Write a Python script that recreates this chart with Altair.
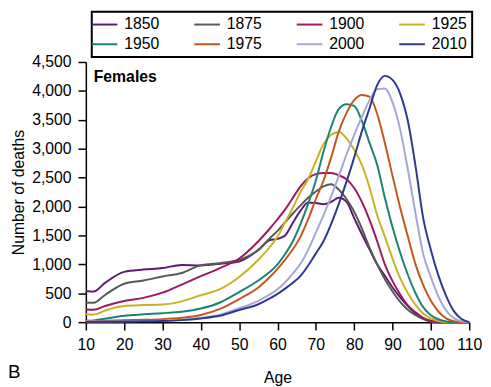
import altair as alt
import pandas as pd

ages = [10, 12, 15, 20, 25, 30, 35, 40, 45, 50, 55, 58, 60, 62, 64, 66, 68, 70, 72, 74,
        76, 78, 80, 82, 84, 86, 88, 90, 92, 94, 96, 98, 100, 102, 104, 106, 108, 110]

d1850 = [540, 530, 680, 870, 910, 935, 990, 980, 1010, 1050, 1250, 1420, 1440, 1500, 1720, 1930, 2070, 2060, 2040, 2080,
         2150, 2080, 1800, 1520, 1260, 1000, 800, 600, 430, 280, 150, 60, 15, 0, 0, 0, 0, 0]
d1875 = [340, 335, 470, 665, 720, 790, 850, 985, 1020, 1080, 1250, 1450, 1580, 1730, 1880, 2020, 2150, 2260, 2350, 2385,
         2290, 2130, 1910, 1620, 1290, 1000, 740, 530, 350, 215, 120, 55, 10, 0, 0, 0, 0, 0]
d1900 = [220, 215, 280, 365, 420, 510, 650, 795, 935, 1100, 1400, 1620, 1780, 1950, 2150, 2350, 2490, 2560, 2580, 2580,
         2540, 2470, 2320, 2080, 1770, 1400, 1000, 710, 480, 290, 170, 75, 25, 0, 0, 0, 0, 0]
d1925 = [135, 130, 200, 280, 295, 305, 360, 465, 570, 780, 1080, 1300, 1480, 1730, 1980, 2250, 2480, 2780, 3080, 3240,
         3290, 3180, 2980, 2720, 2330, 1850, 1480, 1100, 760, 500, 300, 150, 65, 20, 0, 0, 0, 0]
d1950 = [25, 30, 60, 110, 135, 155, 180, 235, 340, 520, 720, 870, 1000, 1180, 1400, 1700, 2050, 2450, 2950, 3380,
         3690, 3770, 3740, 3480, 3100, 2720, 2150, 1640, 1200, 820, 500, 260, 120, 50, 10, 0, 0, 0]
d1975 = [20, 20, 25, 35, 40, 50, 75, 125, 230, 400, 600, 780, 920, 1080, 1260, 1480, 1780, 2130, 2450, 2850,
         3300, 3620, 3840, 3930, 3900, 3600, 3100, 2530, 1980, 1480, 1000, 640, 370, 180, 65, 15, 0, 0]
d2000 = [10, 10, 12, 15, 20, 25, 40, 75, 130, 240, 370, 480, 570, 690, 840, 1010, 1250, 1550, 1850, 2180,
         2530, 2900, 3240, 3550, 3840, 4030, 4040, 3800, 3330, 2640, 1880, 1180, 780, 440, 200, 70, 15, 0]
d2010 = [5, 5, 8, 10, 15, 20, 35, 65, 110, 210, 310, 410, 490, 580, 680, 800, 980, 1190, 1400, 1700,
         2050, 2430, 2850, 3300, 3700, 4100, 4260, 4190, 3950, 3480, 2700, 1800, 1250, 800, 450, 190, 55, 0]

years = ["1850", "1875", "1900", "1925", "1950", "1975", "2000", "2010"]
colors = ["#5b1b72", "#585858", "#9e1962", "#c8b420", "#1a8474", "#c0581e", "#a6a6d8", "#2d3a8e"]
series = [d1850, d1875, d1900, d1925, d1950, d1975, d2000, d2010]

rows = []
for yr, vals in zip(years, series):
    for a, v in zip(ages, vals):
        rows.append({"Age": a, "Deaths": v, "Year": yr})
df = pd.DataFrame(rows)

FONT = "Liberation Sans"

lines = alt.Chart(df).mark_line(strokeWidth=2, interpolate="monotone").encode(
    x=alt.X("Age:Q", scale=alt.Scale(domain=[10, 110], nice=False),
            axis=alt.Axis(values=list(range(10, 111, 10)), title="Age", titlePadding=17)),
    y=alt.Y("Deaths:Q", scale=alt.Scale(domain=[0, 4500], nice=False),
            axis=alt.Axis(values=list(range(0, 4501, 500)), format=",.0f", title="Number of deaths",
                          titlePadding=5)),
    color=alt.Color("Year:N", scale=alt.Scale(domain=years, range=colors),
                    legend=alt.Legend(title=None, orient="none", legendX=6, legendY=-51,
                                      direction="horizontal", columns=4,
                                      symbolType="M-2,0H2", symbolSize=169,
                                      symbolStrokeWidth=2, labelFontSize=16,
                                      labelFont=FONT, labelColor="black", columnPadding=31,
                                      rowPadding=4, padding=5, strokeColor="black",
                                      labelOffset=12)),
)

females = alt.Chart(pd.DataFrame({"t": ["Females"]})).mark_text(
    align="left", baseline="middle", font=FONT, fontSize=16, fontWeight="bold", color="black"
).encode(x=alt.value(8), y=alt.value(15), text="t:N")

panel = alt.Chart(pd.DataFrame({"t": ["B"]})).mark_text(
    align="left", baseline="alphabetic", font=FONT, fontSize=19, color="black"
).encode(x=alt.value(-79), y=alt.value(321), text="t:N")

chart = alt.layer(lines, females, panel).properties(
    width=389, height=264,
    padding={"left": 79, "top": 52, "right": 14, "bottom": 62},
    autosize=alt.AutoSizeParams(type="none"),
).configure_view(stroke=None).configure_axis(
    grid=False, domainColor="black", domainWidth=1.5, tickColor="black", tickWidth=1.5,
    tickSize=8, labelColor="black", labelFont=FONT, labelFontSize=16, labelPadding=7,
    labelFlush=False,
    titleFont=FONT, titleFontSize=16, titleFontWeight="normal", titleColor="black"
).configure_legend(strokeWidth=2)

chart.save("out.html", embed_options={"renderer": "svg", "actions": False})
